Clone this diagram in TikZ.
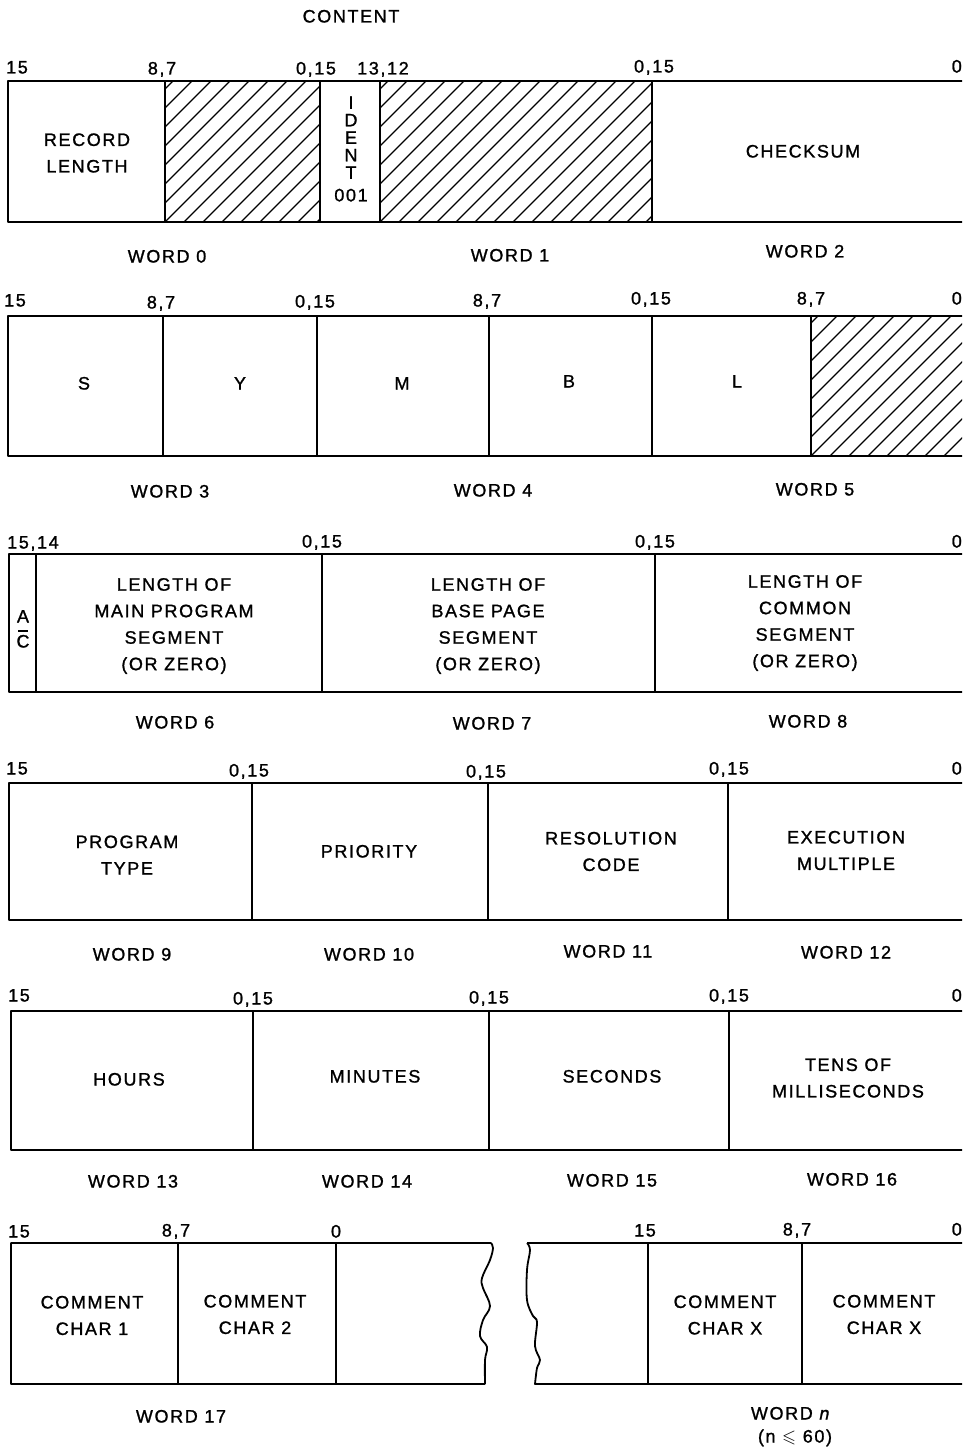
\documentclass[tikz,border=0pt]{standalone}
\usepackage{amssymb}
\usepackage{fontspec}
\setmainfont{Liberation Sans}
\newfontfamily\lbf[LetterSpace=9,FakeBold=1.2]{Liberation Sans}
\newcommand{\lbsize}{\lbf\fontsize{18}{26.5}\selectfont}
\newcommand{\idsize}{\lbf\fontsize{18}{17.5}\selectfont}
\tikzset{
  box/.style={line width=1.8pt, line join=round},
  hatchline/.style={line width=1.2pt},
  lbl/.style={font=\lbsize, inner sep=0pt, text height=13pt, text depth=0pt},
  multi/.style={font=\lbsize, inner sep=0pt, align=center},
}
\begin{document}
\begin{tikzpicture}[x=1pt,y=-1pt]
\useasboundingbox (0,0) rectangle (962,1447);
\clip (0,0) rectangle (962,1447);

\node[lbl] (title) at (351,16) {CONTENT};

% ---------- Row 1 ----------
\draw[box] (990,81) -- (8,81) -- (8,222) -- (990,222);
\foreach \x in {165,320,380,652} \draw[box] (\x,81) -- (\x,222);
\begin{scope}
  \clip (165,81) rectangle (320,222);
  \foreach \k in {-8,...,9} \draw[hatchline] (165+\k*19,222) -- ++(141,-141);
\end{scope}
\begin{scope}
  \clip (380,81) rectangle (652,222);
  \foreach \k in {-8,...,15} \draw[hatchline] (380+\k*19,222) -- ++(141,-141);
\end{scope}
\node[lbl] (n1a) at (17,67) {15};
\node[lbl] (n1b) at (162,68) {8,7};
\node[lbl] (n1c) at (316,68) {0,15};
\node[lbl] (n1d) at (383,68) {13,12};
\node[lbl] (n1e) at (654,66) {0,15};
\node[lbl,anchor=east] (n1f) at (962,66) {0};
\node[multi] (reclen) at (87,153) {RECORD\\LENGTH};
\node[font=\idsize, inner sep=0pt, align=center] (ident) at (351,149) {I\\D\\E\\N\\T\\[5pt]001};
\node[lbl] (cks) at (803,151) {CHECKSUM};
\node[lbl] (w0) at (167,256) {WORD 0};
\node[lbl] (w1) at (510,255) {WORD 1};
\node[lbl] (w2) at (805,251) {WORD 2};

% ---------- Row 2 ----------
\draw[box] (990,316) -- (8,316) -- (8,456) -- (990,456);
\foreach \x in {163,317,489,652,811} \draw[box] (\x,316) -- (\x,456);
\begin{scope}
  \clip (811,316) rectangle (990,456);
  \foreach \k in {-8,...,10} \draw[hatchline] (811+\k*19,456) -- ++(140,-140);
\end{scope}
\node[lbl] (n2a) at (15,300) {15};
\node[lbl] (n2b) at (161,302) {8,7};
\node[lbl] (n2c) at (315,301) {0,15};
\node[lbl] (n2d) at (487,300) {8,7};
\node[lbl] (n2e) at (651,298) {0,15};
\node[lbl] (n2f) at (811,298) {8,7};
\node[lbl,anchor=east] (n2g) at (962,298) {0};
\node[lbl] (cS) at (84,383) {S};
\node[lbl] (cY) at (240,383) {Y};
\node[lbl] (cM) at (402,383) {M};
\node[lbl] (cB) at (569,381) {B};
\node[lbl] (cL) at (737,381) {L};
\node[lbl] (w3) at (170,491) {WORD 3};
\node[lbl] (w4) at (493,490) {WORD 4};
\node[lbl] (w5) at (815,489) {WORD 5};

% ---------- Row 3 ----------
\draw[box] (990,554) -- (9,554) -- (9,692) -- (990,692);
\foreach \x in {322,655} \draw[box] (\x,554) -- (\x,692);
\draw[line width=1.4pt] (36,554) -- (36,692);
\node[lbl] (n3a) at (33,542) {15,14};
\node[lbl] (n3b) at (322,541) {0,15};
\node[lbl] (n3c) at (655,541) {0,15};
\node[lbl,anchor=east] (n3d) at (962,541) {0};
\node[lbl] (acA) at (23,616) {A};
\node[lbl] (acC) at (23,641) {C};
\draw[line width=1.2pt] (18,631) -- (28,631);
\node[multi] (lmain) at (174,626) {LENGTH OF\\MAIN PROGRAM\\SEGMENT\\(OR ZERO)};
\node[multi] (lbase) at (488,626) {LENGTH OF\\BASE PAGE\\SEGMENT\\(OR ZERO)};
\node[multi] (lcomm) at (805,623) {LENGTH OF\\COMMON\\SEGMENT\\(OR ZERO)};
\node[lbl] (w6) at (175,722) {WORD 6};
\node[lbl] (w7) at (492,723) {WORD 7};
\node[lbl] (w8) at (808,721) {WORD 8};

% ---------- Row 4 ----------
\draw[box] (990,783) -- (9,783) -- (9,920) -- (990,920);
\foreach \x in {252,488,728} \draw[box] (\x,783) -- (\x,920);
\node[lbl] (n4a) at (17,768) {15};
\node[lbl] (n4b) at (249,770) {0,15};
\node[lbl] (n4c) at (486,771) {0,15};
\node[lbl] (n4d) at (729,768) {0,15};
\node[lbl,anchor=east] (n4e) at (962,768) {0};
\node[multi] (ptype) at (127,855) {PROGRAM\\TYPE};
\node[lbl] (prio) at (369,851) {PRIORITY};
\node[multi] (res) at (611,851.5) {RESOLUTION\\CODE};
\node[multi] (exe) at (846,850.5) {EXECUTION\\MULTIPLE};
\node[lbl] (w9) at (132,954) {WORD 9};
\node[lbl] (w10) at (369,954) {WORD 10};
\node[lbl] (w11) at (608,951) {WORD 11};
\node[lbl] (w12) at (846,952) {WORD 12};

% ---------- Row 5 ----------
\draw[box] (990,1011) -- (11,1011) -- (11,1150) -- (990,1150);
\foreach \x in {253,489,729} \draw[box] (\x,1011) -- (\x,1150);
\node[lbl] (n5a) at (19,995) {15};
\node[lbl] (n5b) at (253,998) {0,15};
\node[lbl] (n5c) at (489,997) {0,15};
\node[lbl] (n5d) at (729,995) {0,15};
\node[lbl,anchor=east] (n5e) at (962,995) {0};
\node[lbl] (hours) at (129,1079) {HOURS};
\node[lbl] (mins) at (375,1076) {MINUTES};
\node[lbl] (secs) at (612,1076) {SECONDS};
\node[multi] (tens) at (848,1078) {TENS OF\\MILLISECONDS};
\node[lbl] (w13) at (133,1181) {WORD 13};
\node[lbl] (w14) at (367,1181) {WORD 14};
\node[lbl] (w15) at (612,1180) {WORD 15};
\node[lbl] (w16) at (852,1179) {WORD 16};

% ---------- Row 6 ----------
\draw[box] (485,1384) -- (11,1384) -- (11,1243) -- (491,1243)
  plot[smooth, tension=0.6] coordinates {(491,1243) (493,1248) (490,1260) (482,1278) (483,1288) (490,1306) (483,1320) (480,1336) (487,1347) (485,1360) (485,1384)};
\foreach \x in {178,336} \draw[box] (\x,1243) -- (\x,1384);
\draw[box] (990,1243) -- (527,1243)
  plot[smooth, tension=0.6] coordinates {(527,1243) (530,1250) (527,1270) (527,1300) (533,1316) (537,1322) (535,1346) (540,1360) (537,1368) (535,1384)}
  -- (990,1384);
\foreach \x in {648,802} \draw[box] (\x,1243) -- (\x,1384);
\node[lbl] (n6a) at (19,1231) {15};
\node[lbl] (n6b) at (176,1230) {8,7};
\node[lbl] (n6c) at (336,1231) {0};
\node[lbl] (n6d) at (645,1230) {15};
\node[lbl] (n6e) at (797,1229) {8,7};
\node[lbl,anchor=east] (n6f) at (962,1229) {0};
\node[multi] (cc1) at (92,1315.5) {COMMENT\\CHAR 1};
\node[multi] (cc2) at (255,1314.5) {COMMENT\\CHAR 2};
\node[multi] (ccx1) at (725,1315) {COMMENT\\CHAR X};
\node[multi] (ccx2) at (884,1314.5) {COMMENT\\CHAR X};
\node[lbl] (w17) at (181,1416) {WORD 17};
\node[lbl] (wn) at (791,1413) {WORD \textit{n}};
\node[lbl] (wncond) at (795,1436) {(n $\leqslant$ 60)};
\end{tikzpicture}
\end{document}
